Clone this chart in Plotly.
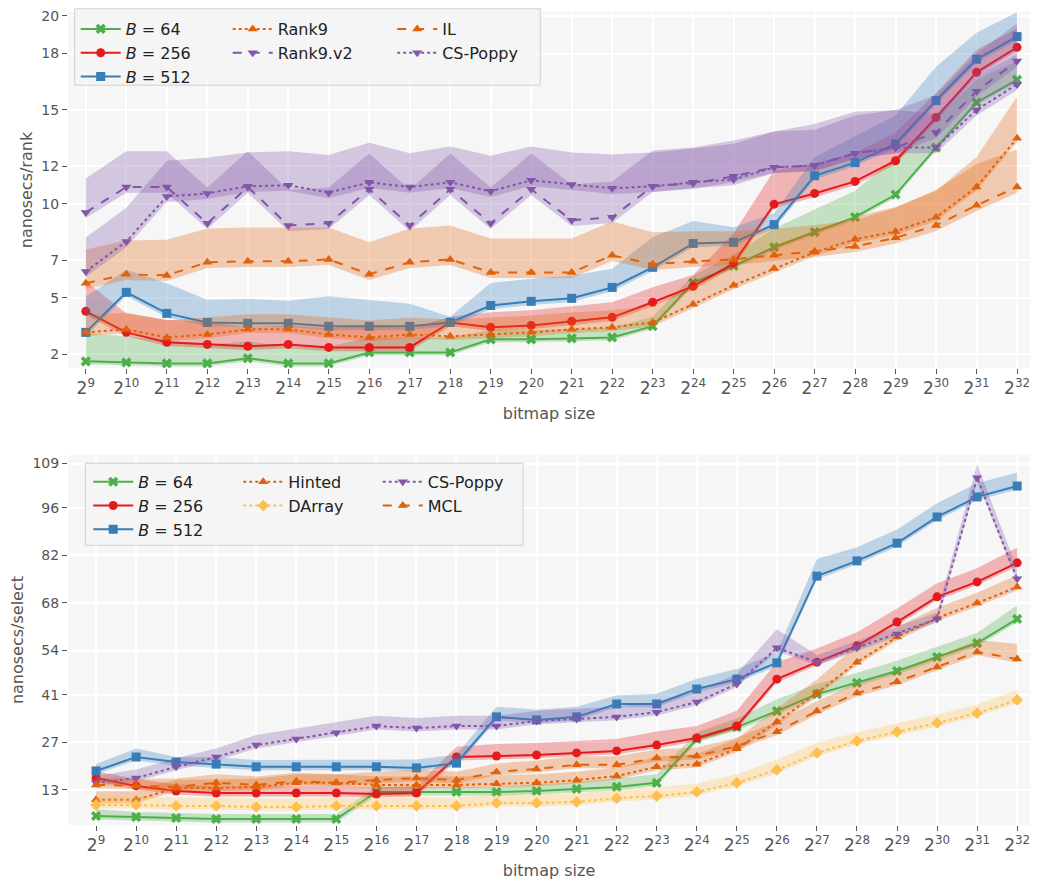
import plotly.graph_objects as go
from plotly.subplots import make_subplots

exps = list(range(9, 33))
tick_text = [f"2<sup>{e}</sup>" for e in exps]

# ---- rank (top panel) ----
rank_b64 = [1.63, 1.57, 1.52, 1.52, 1.79, 1.52, 1.52, 2.1, 2.1, 2.1, 2.8, 2.8, 2.85, 2.9, 3.5,
            5.8, 6.7, 7.7, 8.5, 9.3, 10.5, 13.0, 15.4, 16.6]
rank_b256 = [4.29, 3.17, 2.64, 2.53, 2.43, 2.53, 2.37, 2.37, 2.37, 3.7, 3.44, 3.54, 3.76, 3.97, 4.77,
             5.62, 6.84, 9.98, 10.56, 11.2, 12.3, 14.6, 17.0, 18.33]
rank_b512 = [3.17, 5.3, 4.18, 3.7, 3.65, 3.65, 3.49, 3.49, 3.49, 3.7, 4.6, 4.82, 4.98, 5.56, 6.63,
             7.9, 7.96, 8.9, 11.5, 12.2, 13.2, 15.5, 17.7, 18.9]
rank_rank9 = [3.17, 3.33, 2.9, 3.06, 3.33, 3.33, 3.06, 2.9, 3.06, 2.96, 3.06, 3.17, 3.33, 3.44, 3.7,
              4.66, 5.67, 6.57, 7.43, 8.12, 8.54, 9.29, 10.9, 13.5]
rank_il = [5.78, 6.26, 6.2, 6.9, 6.95, 6.95, 7.05, 6.26, 6.9, 7.05, 6.36, 6.36, 6.36, 7.27, 6.79,
           6.95, 7.05, 7.27, 7.48, 7.74, 8.2, 8.86, 9.93, 10.9]
rank_v2 = [9.55, 10.9, 10.9, 8.97, 10.9, 8.86, 8.97, 10.78, 8.86, 10.78, 8.97, 10.78, 9.13, 9.29, 10.94,
           11.1, 11.47, 11.95, 12.05, 12.7, 13.0, 13.8, 16.0, 17.6]
rank_poppy = [6.41, 8.0, 10.4, 10.56, 10.94, 11.0, 10.6, 11.15, 10.9, 11.15, 10.67, 11.26, 11.04, 10.83, 10.94,
              11.15, 11.3, 11.95, 12.05, 12.7, 13.0, 13.0, 15.0, 16.36]

# band upper offsets (read from the shaded areas)
rank_b64_up = [1.5, 1.4, 1.2, 1.0, 0.9, 0.9, 0.9, 0.8, 0.8, 0.8, 0.5, 0.5, 0.5, 0.5, 0.5,
               0.4, 0.6, 1.0, 1.2, 1.4, 2.0, 1.5, 1.2, 1.0]
rank_b256_up = [1.6, 1.0, 1.2, 1.2, 1.0, 1.0, 1.0, 1.2, 1.0, 0.3, 0.8, 0.8, 0.8, 0.8, 0.8,
                0.6, 1.6, 1.8, 1.6, 1.5, 1.5, 1.3, 1.2, 1.0]
rank_b512_up = [1.9, 1.2, 1.6, 1.2, 1.3, 1.2, 1.6, 1.4, 1.2, 0.3, 1.2, 1.2, 1.2, 1.0, 1.6,
                1.2, 0.8, 0.6, 1.0, 1.4, 1.5, 1.8, 1.4, 1.3]
rank_rank9_up = [0.9, 0.9, 0.9, 0.9, 0.8, 0.8, 0.9, 0.9, 0.9, 0.9, 0.9, 0.9, 0.9, 0.9, 0.9,
                 1.0, 1.0, 1.2, 1.2, 1.2, 1.3, 1.4, 1.6, 2.2]
rank_il_up = [1.8, 1.8, 1.9, 1.8, 1.8, 1.8, 1.7, 1.7, 1.8, 1.8, 1.8, 1.8, 1.8, 1.8, 1.7,
              1.6, 1.5, 1.4, 1.4, 1.4, 1.6, 1.9, 2.2, 2.0]
rank_v2_up = [1.8, 1.9, 1.9, 1.9, 1.9, 1.9, 1.9, 1.9, 1.9, 1.9, 1.9, 1.9, 1.9, 1.9, 1.9,
              1.9, 1.9, 1.9, 1.9, 2.0, 2.0, 2.0, 2.0, 2.0]
rank_poppy_up = [1.8, 1.8, 1.9, 1.9, 1.8, 1.8, 2.0, 2.1, 1.8, 1.9, 1.9, 1.8, 1.7, 1.8, 1.8,
                 1.8, 1.9, 1.9, 2.2, 2.2, 2.0, 1.8, 1.8, 1.6]

# ---- select (bottom panel) ----
sel_b64 = [5.35, 5.06, 4.76, 4.47, 4.47, 4.47, 4.47, 12.4, 12.4, 12.4, 12.4, 12.7, 13.3, 13.9, 15.1,
           28.0, 31.5, 36.2, 41.2, 44.5, 48.0, 52.1, 56.2, 63.3]
sel_b256 = [16.5, 14.2, 12.7, 12.1, 12.1, 12.1, 12.1, 11.8, 12.1, 22.7, 23.0, 23.3, 23.9, 24.5, 26.2,
            28.3, 31.8, 45.6, 50.6, 55.4, 62.4, 69.8, 74.2, 79.8]
sel_b512 = [18.6, 22.7, 21.2, 20.6, 19.8, 19.8, 19.8, 19.8, 19.5, 20.9, 34.5, 33.6, 34.5, 38.3, 38.3,
            42.7, 45.6, 50.4, 75.9, 80.4, 85.6, 93.3, 99.2, 102.4]
sel_hinted = [10.1, 10.1, 13.6, 13.6, 13.9, 15.1, 15.1, 14.5, 14.5, 14.5, 14.8, 15.1, 15.9, 17.1, 19.8,
              20.6, 25.1, 33.0, 41.5, 50.6, 58.0, 63.6, 68.0, 72.7]
sel_darray = [8.6, 8.6, 8.3, 8.3, 8.0, 8.0, 8.3, 8.3, 8.3, 8.3, 9.2, 9.2, 9.5, 10.6, 11.2,
              12.4, 15.1, 18.9, 23.9, 27.4, 30.1, 32.7, 35.6, 39.5]
sel_poppy = [15.1, 16.5, 19.8, 22.7, 26.2, 28.0, 29.8, 31.8, 31.2, 31.8, 31.8, 33.3, 33.9, 34.5, 35.9,
             38.9, 44.2, 54.8, 50.6, 54.8, 58.9, 63.3, 104.8, 75.1]
sel_mcl = [14.5, 14.2, 13.9, 15.1, 14.5, 15.6, 15.1, 15.9, 16.5, 15.9, 18.3, 19.2, 20.4, 20.4, 22.4,
           23.0, 25.9, 30.1, 36.2, 41.5, 44.8, 49.2, 53.6, 51.5]

sel_b64_up = [2.0, 1.5, 1.5, 1.5, 1.5, 1.5, 1.5, 1.5, 1.5, 1.5, 1.5, 2.0, 2.0, 2.5, 2.5,
              2.0, 2.5, 3.5, 3.0, 3.0, 3.0, 3.0, 3.0, 4.0]
sel_b256_up = [2.0, 2.0, 2.0, 2.0, 2.0, 2.0, 2.0, 2.0, 2.0, 3.0, 3.5, 3.5, 3.5, 3.5, 4.0,
               3.5, 4.5, 5.0, 4.0, 4.0, 4.0, 4.0, 4.0, 4.5]
sel_b512_up = [2.0, 2.5, 1.5, 2.0, 2.0, 2.0, 2.0, 2.0, 2.5, 2.5, 3.0, 3.0, 3.0, 2.5, 3.0,
               3.0, 3.0, 3.0, 5.0, 4.0, 4.0, 4.0, 4.0, 4.0]
sel_hinted_up = [2.5, 2.5, 2.5, 2.5, 2.5, 2.5, 2.5, 2.5, 2.5, 2.5, 2.5, 2.5, 2.5, 2.5, 3.0,
                 3.0, 3.0, 4.0, 4.0, 5.0, 3.0, 3.0, 3.0, 3.5]
sel_darray_up = [2.5, 2.5, 2.5, 2.5, 2.5, 2.5, 2.5, 2.5, 2.5, 2.5, 2.5, 2.5, 2.5, 2.5, 2.5,
                 2.5, 2.5, 3.0, 3.0, 2.5, 2.5, 2.5, 2.5, 3.0]
sel_poppy_up = [2.0, 2.5, 2.5, 2.5, 3.0, 3.0, 3.0, 3.0, 3.0, 3.0, 3.0, 3.0, 3.0, 3.0, 3.0,
                3.0, 3.0, 5.5, 2.0, 2.0, 2.0, 2.0, 4.0, 3.0]
sel_mcl_up = [2.0, 2.0, 2.5, 2.5, 2.5, 2.5, 2.5, 2.5, 2.5, 2.5, 2.5, 2.5, 2.5, 2.5, 2.5,
              2.5, 2.5, 3.0, 3.0, 3.0, 3.0, 3.0, 3.5, 4.5]

GREEN, RED, BLUE = "#4daf4a", "#e41a1c", "#377eb8"
ORANGE, PURPLE, YELLOW = "#e0620d", "#8256a8", "#fdc04f"


def rgba(hex_color, a):
    h = hex_color.lstrip("#")
    return f"rgba({int(h[0:2], 16)},{int(h[2:4], 16)},{int(h[4:6], 16)},{a})"


fig = make_subplots(rows=2, cols=1)


def add_series(row, name, y, up, color, symbol, dash, legend, lo=0.3):
    lower = [v - lo for v in y]
    upper = [v + u for v, u in zip(y, up)]
    fig.add_trace(go.Scatter(x=exps, y=lower, mode="lines", line=dict(width=0),
                             showlegend=False, hoverinfo="skip"), row=row, col=1)
    fig.add_trace(go.Scatter(x=exps, y=upper, mode="lines", line=dict(width=0),
                             fill="tonexty", fillcolor=rgba(color, 0.3),
                             showlegend=False, hoverinfo="skip"), row=row, col=1)
    fig.add_trace(go.Scatter(x=exps, y=y, name=name, mode="lines+markers",
                             line=dict(color=color, width=2, dash=dash),
                             marker=dict(color=color, symbol=symbol, size=9),
                             legend=legend), row=row, col=1)


add_series(1, "<i>B</i> = 64", rank_b64, rank_b64_up, GREEN, "x", "solid", "legend", 0.15)
add_series(1, "<i>B</i> = 256", rank_b256, rank_b256_up, RED, "circle", "solid", "legend", 0.2)
add_series(1, "<i>B</i> = 512", rank_b512, rank_b512_up, BLUE, "square", "solid", "legend", 0.2)
add_series(1, "Rank9", rank_rank9, rank_rank9_up, ORANGE, "triangle-up", "dot", "legend2", 0.2)
add_series(1, "Rank9.v2", rank_v2, rank_v2_up, PURPLE, "triangle-down", "dash", "legend2")
add_series(1, "IL", rank_il, rank_il_up, ORANGE, "triangle-up", "dash", "legend3")
add_series(1, "CS-Poppy", rank_poppy, rank_poppy_up, PURPLE, "triangle-down", "dot", "legend3")

add_series(2, "<i>B</i> = 64", sel_b64, sel_b64_up, GREEN, "x", "solid", "legend4", 1.0)
add_series(2, "<i>B</i> = 256", sel_b256, sel_b256_up, RED, "circle", "solid", "legend4", 1.0)
add_series(2, "<i>B</i> = 512", sel_b512, sel_b512_up, BLUE, "square", "solid", "legend4", 1.0)
add_series(2, "Hinted", sel_hinted, sel_hinted_up, ORANGE, "triangle-up", "dot", "legend5", 1.0)
add_series(2, "DArray", sel_darray, sel_darray_up, YELLOW, "diamond", "dot", "legend5", 1.0)
add_series(2, "CS-Poppy", sel_poppy, sel_poppy_up, PURPLE, "triangle-down", "dot", "legend6", 1.0)
add_series(2, "MCL", sel_mcl, sel_mcl_up, ORANGE, "triangle-up", "dash", "legend6", 1.0)

axis_common = dict(showgrid=True, gridcolor="white", gridwidth=1.5, zeroline=False,
                   ticks="outside", ticklen=5, tickcolor="#555", showline=False,
                   automargin=False, ticklabeloverflow="allow",
                   tickfont=dict(size=14, color="#555"))
fig.update_xaxes(**axis_common, tickvals=exps, ticktext=tick_text,
                 title=dict(text="bitmap size", font=dict(size=16, color="#555"), standoff=10))
fig.update_xaxes(tickfont=dict(size=17, color="#555"))
fig.update_xaxes(range=[8.56, 32.32], row=1, col=1)
fig.update_xaxes(range=[8.3, 32.32], row=2, col=1)
fig.update_yaxes(**axis_common)
fig.update_yaxes(range=[1.27, 20.21], tickvals=[2, 5, 7, 10, 12, 15, 18, 20], domain=[0.562, 1.0],
                 title=dict(text="nanosecs/rank", font=dict(size=16, color="#555"), standoff=4),
                 row=1, col=1)
fig.update_yaxes(range=[2.7, 111.5], tickvals=[13, 27, 41, 54, 68, 82, 96, 109], domain=[0.0, 0.455],
                 title=dict(text="nanosecs/select", font=dict(size=16, color="#555"), standoff=4),
                 row=2, col=1)

legend_common = dict(orientation="v", xanchor="left", yanchor="top",
                     bgcolor="rgba(0,0,0,0)", borderwidth=0,
                     font=dict(size=16, color="#222"), traceorder="normal", itemwidth=40)
legend_pos = {
    "legend": (0.008, 1.0), "legend2": (0.166, 1.0), "legend3": (0.337, 1.0),
    "legend4": (0.021, 0.443), "legend5": (0.177, 0.443), "legend6": (0.322, 0.443),
}
legends = {k: dict(**legend_common, x=x, y=y) for k, (x, y) in legend_pos.items()}

box_style = dict(type="rect", xref="paper", yref="paper", layer="above",
                 fillcolor="rgba(245,245,245,0.88)", line=dict(color="#d0d0d0", width=1))
fig.update_layout(
    width=1038, height=887,
    margin=dict(l=60, r=16, t=4, b=70),
    plot_bgcolor="#f6f6f6", paper_bgcolor="white",
    font=dict(family="DejaVu Sans", color="#555"),
    shapes=[
        dict(**box_style, x0=0.007, x1=0.491, y0=0.910, y1=1.004),
        dict(**box_style, x0=0.018, x1=0.473, y0=0.344, y1=0.445),
    ],
    **legends,
)

fig.write_html("out.html")
